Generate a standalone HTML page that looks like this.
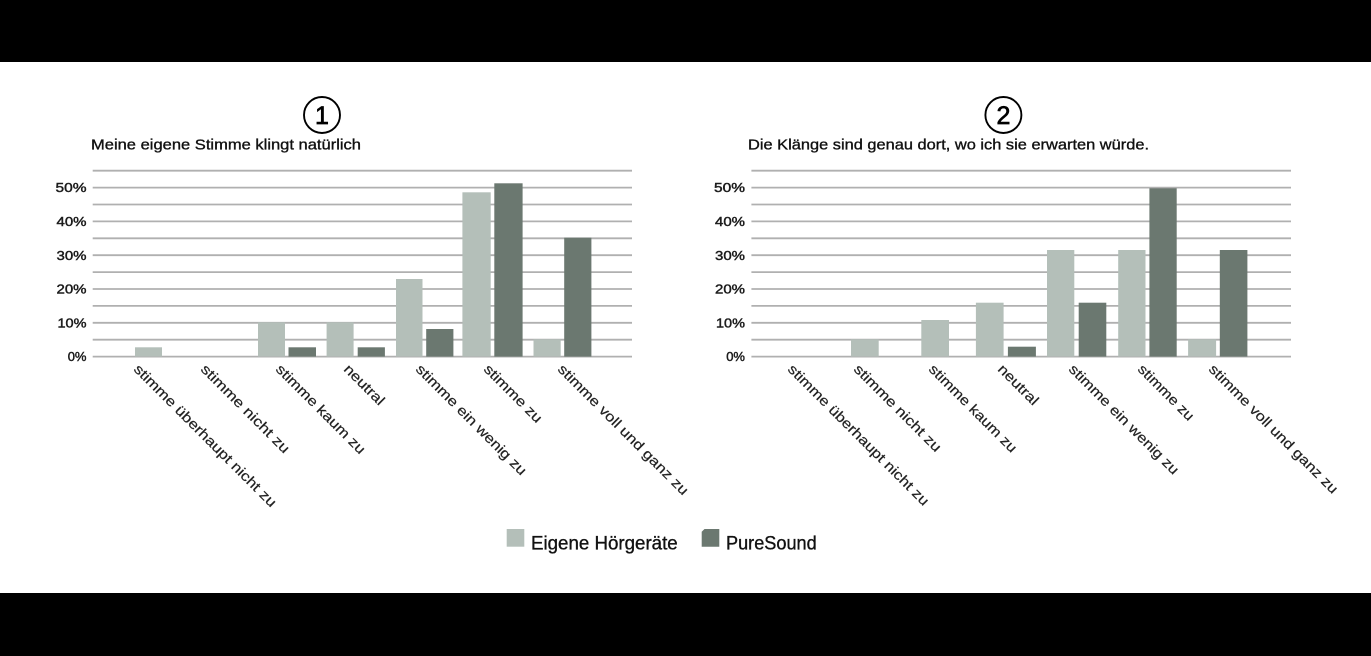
<!DOCTYPE html>
<html>
<head>
<meta charset="utf-8">
<style>
html,body{margin:0;padding:0;background:#fff;}
svg{display:block;}
text{font-family:"Liberation Sans",Arial,sans-serif;}
</style>
</head>
<body>
<svg width="1371" height="656" viewBox="0 0 1371 656" xmlns="http://www.w3.org/2000/svg">
<rect x="0" y="0" width="1371" height="656" fill="#fff"/>
<rect x="0" y="0" width="1371" height="62" fill="#000"/>
<rect x="0" y="593" width="1371" height="63" fill="#000"/>

<!-- ===== LEFT CHART ===== -->
<g stroke="#b0b0b0" stroke-width="1.8">
<line x1="92.7" x2="632" y1="356.6" y2="356.6"/>
<line x1="92.7" x2="632" y1="339.7" y2="339.7"/>
<line x1="92.7" x2="632" y1="322.8" y2="322.8"/>
<line x1="92.7" x2="632" y1="305.9" y2="305.9"/>
<line x1="92.7" x2="632" y1="289" y2="289"/>
<line x1="92.7" x2="632" y1="272.1" y2="272.1"/>
<line x1="92.7" x2="632" y1="255.2" y2="255.2"/>
<line x1="92.7" x2="632" y1="238.3" y2="238.3"/>
<line x1="92.7" x2="632" y1="221.4" y2="221.4"/>
<line x1="92.7" x2="632" y1="204.5" y2="204.5"/>
<line x1="92.7" x2="632" y1="187.6" y2="187.6"/>
<line x1="92.7" x2="632" y1="170.7" y2="170.7"/>
</g>
<g font-size="13" fill="#1a1a1a" stroke="#1a1a1a" stroke-width="0.45" text-anchor="end">
<text x="86.5" y="361.2">0%</text>
<text x="86.5" y="327.4" textLength="29" lengthAdjust="spacingAndGlyphs">10%</text>
<text x="86.5" y="293.6" textLength="30" lengthAdjust="spacingAndGlyphs">20%</text>
<text x="86.5" y="259.8" textLength="30" lengthAdjust="spacingAndGlyphs">30%</text>
<text x="86.5" y="226" textLength="30" lengthAdjust="spacingAndGlyphs">40%</text>
<text x="86.5" y="192.2" textLength="31" lengthAdjust="spacingAndGlyphs">50%</text>
</g>
<g fill="#b4bfb9">
<rect x="135" y="347.3" width="27" height="9.3"/>
<rect x="258" y="322.3" width="27" height="34.3"/>
<rect x="326.6" y="322.3" width="27" height="34.3"/>
<rect x="396" y="279" width="26.5" height="77.6"/>
<rect x="462.4" y="192.3" width="28.3" height="164.3"/>
<rect x="533.5" y="339.3" width="27.2" height="17.3"/>
</g>
<g fill="#6b7870">
<rect x="288.5" y="347.3" width="27.5" height="9.3"/>
<rect x="357.7" y="347.3" width="27.2" height="9.3"/>
<rect x="426.2" y="329" width="27.2" height="27.6"/>
<rect x="494.3" y="183.3" width="28.3" height="173.3"/>
<rect x="564.2" y="237.7" width="27.2" height="118.9"/>
</g>
<circle cx="322" cy="115" r="18" fill="none" stroke="#000" stroke-width="1.9"/>
<text x="322" y="124" font-size="25" text-anchor="middle" fill="#000" stroke="#000" stroke-width="0.7">1</text>
<text x="91" y="149.5" font-size="15" fill="#111" stroke="#111" stroke-width="0.35" textLength="270" lengthAdjust="spacingAndGlyphs">Meine eigene Stimme klingt natürlich</text>
<g font-size="14" fill="#222" stroke="#222" stroke-width="0.2">
<text transform="translate(133,370) rotate(45)" textLength="195" lengthAdjust="spacingAndGlyphs">stimme überhaupt nicht zu</text>
<text transform="translate(200,370) rotate(45)" textLength="119" lengthAdjust="spacingAndGlyphs">stimme nicht zu</text>
<text transform="translate(275,370) rotate(45)" textLength="120" lengthAdjust="spacingAndGlyphs">stimme kaum zu</text>
<text transform="translate(343,370) rotate(45)" textLength="51" lengthAdjust="spacingAndGlyphs">neutral</text>
<text transform="translate(415,370) rotate(45)" textLength="150" lengthAdjust="spacingAndGlyphs">stimme ein wenig zu</text>
<text transform="translate(483,370) rotate(45)" textLength="76" lengthAdjust="spacingAndGlyphs">stimme zu</text>
<text transform="translate(557,370) rotate(45)" textLength="178" lengthAdjust="spacingAndGlyphs">stimme voll und ganz zu</text>
</g>

<!-- ===== RIGHT CHART ===== -->
<g stroke="#b0b0b0" stroke-width="1.8">
<line x1="751.4" x2="1291" y1="356.6" y2="356.6"/>
<line x1="751.4" x2="1291" y1="339.7" y2="339.7"/>
<line x1="751.4" x2="1291" y1="322.8" y2="322.8"/>
<line x1="751.4" x2="1291" y1="305.9" y2="305.9"/>
<line x1="751.4" x2="1291" y1="289" y2="289"/>
<line x1="751.4" x2="1291" y1="272.1" y2="272.1"/>
<line x1="751.4" x2="1291" y1="255.2" y2="255.2"/>
<line x1="751.4" x2="1291" y1="238.3" y2="238.3"/>
<line x1="751.4" x2="1291" y1="221.4" y2="221.4"/>
<line x1="751.4" x2="1291" y1="204.5" y2="204.5"/>
<line x1="751.4" x2="1291" y1="187.6" y2="187.6"/>
<line x1="751.4" x2="1291" y1="170.7" y2="170.7"/>
</g>
<g font-size="13" fill="#1a1a1a" stroke="#1a1a1a" stroke-width="0.45" text-anchor="end">
<text x="745" y="361.2">0%</text>
<text x="745" y="327.4" textLength="29" lengthAdjust="spacingAndGlyphs">10%</text>
<text x="745" y="293.6" textLength="30" lengthAdjust="spacingAndGlyphs">20%</text>
<text x="745" y="259.8" textLength="30" lengthAdjust="spacingAndGlyphs">30%</text>
<text x="745" y="226" textLength="30" lengthAdjust="spacingAndGlyphs">40%</text>
<text x="745" y="192.2" textLength="31" lengthAdjust="spacingAndGlyphs">50%</text>
</g>
<g fill="#b4bfb9">
<rect x="851" y="339.3" width="27.7" height="17.3"/>
<rect x="921.3" y="320" width="27.7" height="36.6"/>
<rect x="975.9" y="302.7" width="27.7" height="53.9"/>
<rect x="1047" y="250" width="27.3" height="106.6"/>
<rect x="1118.2" y="250" width="27.3" height="106.6"/>
<rect x="1188.1" y="339.3" width="28" height="17.3"/>
</g>
<g fill="#6b7870">
<rect x="1007.9" y="346.7" width="28" height="9.9"/>
<rect x="1078.7" y="302.7" width="27.6" height="53.9"/>
<rect x="1149.4" y="188.3" width="27.3" height="168.3"/>
<rect x="1219.8" y="250" width="27.6" height="106.6"/>
</g>
<circle cx="1003.4" cy="115" r="18" fill="none" stroke="#000" stroke-width="1.9"/>
<text x="1003.4" y="124" font-size="25" text-anchor="middle" fill="#000" stroke="#000" stroke-width="0.7">2</text>
<text x="748" y="149.5" font-size="15" fill="#111" stroke="#111" stroke-width="0.35" textLength="401" lengthAdjust="spacingAndGlyphs">Die Klänge sind genau dort, wo ich sie erwarten würde.</text>
<g font-size="14" fill="#222" stroke="#222" stroke-width="0.2">
<text transform="translate(787,370) rotate(45)" textLength="193" lengthAdjust="spacingAndGlyphs">stimme überhaupt nicht zu</text>
<text transform="translate(853,370) rotate(45)" textLength="117" lengthAdjust="spacingAndGlyphs">stimme nicht zu</text>
<text transform="translate(928,370) rotate(45)" textLength="118" lengthAdjust="spacingAndGlyphs">stimme kaum zu</text>
<text transform="translate(997,370) rotate(45)" textLength="51" lengthAdjust="spacingAndGlyphs">neutral</text>
<text transform="translate(1068,370) rotate(45)" textLength="149" lengthAdjust="spacingAndGlyphs">stimme ein wenig zu</text>
<text transform="translate(1137,370) rotate(45)" textLength="73" lengthAdjust="spacingAndGlyphs">stimme zu</text>
<text transform="translate(1208,370) rotate(45)" textLength="176" lengthAdjust="spacingAndGlyphs">stimme voll und ganz zu</text>
</g>

<!-- ===== LEGEND ===== -->
<rect x="506.7" y="529" width="17.6" height="17.7" fill="#b4bfb9"/>
<text x="531" y="549.3" font-size="19" fill="#111" stroke="#111" stroke-width="0.35" textLength="146.7" lengthAdjust="spacingAndGlyphs">Eigene Hörgeräte</text>
<polygon points="704.5,529 719.3,529 719.3,546.7 701.7,546.7 701.7,531.8" fill="#6b7870"/>
<text x="726" y="549.3" font-size="19" fill="#111" stroke="#111" stroke-width="0.35" textLength="90.7" lengthAdjust="spacingAndGlyphs">PureSound</text>
</svg>
</body>
</html>
